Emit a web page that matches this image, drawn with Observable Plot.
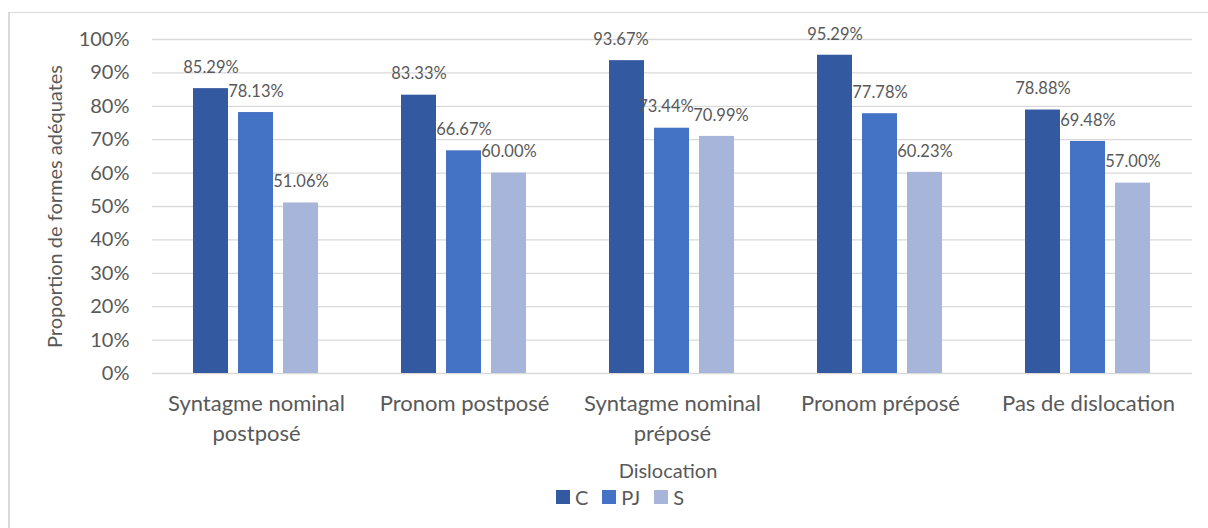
<!DOCTYPE html>
<html>
<head>
<meta charset="utf-8">
<script src="https://cdn.jsdelivr.net/npm/d3@7"></script>
<script src="https://cdn.jsdelivr.net/npm/@observablehq/plot@0.6"></script>
<style>
  html, body { margin: 0; padding: 0; background: #fff; }
  #wrap { position: relative; width: 1208px; height: 528px; overflow: hidden; font-family: Lato, sans-serif; color: #595959; }
  #frame { position: absolute; left: 8px; top: 12px; width: 1300px; height: 600px; border-left: 2px solid #d9d9d9; border-top: 1px solid #d9d9d9; box-sizing: border-box; }
  #chart { position: absolute; left: 0; top: 0; }
  #legend-title { position: absolute; left: 0; width: 1336px; top: 458px; text-align: center; font-size: 20px; line-height: 24px; }
  #legend { position: absolute; left: 0; width: 1240px; top: 486px; display: flex; justify-content: center; gap: 14px; font-size: 20px; line-height: 22px; }
  .item { display: flex; align-items: center; gap: 5px; }
  .sw { width: 14px; height: 14px; display: inline-block; }
</style>
</head>
<body>
<div id="wrap">
  <div id="frame"></div>
  <div id="chart"></div>
  <div id="legend-title"></div>
  <div id="legend"></div>
</div>
<script>
const categories = ["Syntagme nominal postposé", "Pronom postposé", "Syntagme nominal préposé", "Pronom préposé", "Pas de dislocation"];
const categoryLabels = ["Syntagme nominal\npostposé", "Pronom postposé", "Syntagme nominal\npréposé", "Pronom préposé", "Pas de dislocation"];
const series = ["C", "PJ", "S"];
const valuesC  = [0.8529, 0.8333, 0.9367, 0.9529, 0.7888];
const valuesPJ = [0.7813, 0.6667, 0.7344, 0.7778, 0.6948];
const valuesS  = [0.5106, 0.6000, 0.7099, 0.6023, 0.5700];
const colors = ["#335AA1", "#4472C4", "#A7B5DB"];
const yTicks = [0, 0.1, 0.2, 0.3, 0.4, 0.5, 0.6, 0.7, 0.8, 0.9, 1.0];
const yTitle = "Proportion de formes adéquates";
const legendTitle = "Dislocation";

const seriesValues = [valuesC, valuesPJ, valuesS];
const rows = [];
categories.forEach((cat, i) => {
  series.forEach((s, j) => rows.push({cat, series: s, value: seriesValues[j][i]}));
});
const labelOf = new Map(categories.map((c, i) => [c, categoryLabels[i]]));

// manual label nudges (styling), as in the original where some labels were moved apart
const labelNudge = new Map([
  [categories[2] + "|C", -6],
  [categories[2] + "|PJ", -6],
  [categories[2] + "|S", 4]
]);
const nudgeOf = r => labelNudge.get(r.cat + "|" + r.series) || 0;
const nudgeValues = Array.from(new Set(rows.map(nudgeOf)));
const labelMarks = nudgeValues.map(dx =>
  Plot.text(rows.filter(r => nudgeOf(r) === dx), {
    fx: "cat", x: "series", y: "value", dx, dy: -21, fontSize: 16.5, fill: "#595959",
    text: d => (d.value * 100).toFixed(2) + "%"
  })
);

const chart = Plot.plot({
  width: 1208,
  height: 455,
  marginLeft: 152,
  marginRight: 16,
  marginTop: 39,
  marginBottom: 82,
  style: {fontFamily: "Lato, sans-serif", color: "#595959", background: "transparent", overflow: "visible"},
  fx: {domain: categories, padding: 0, label: null, axis: null},
  x: {domain: series, paddingInner: 0.217, paddingOuter: 0.87, axis: null},
  y: {domain: [0, 1], label: null},
  color: {domain: series, range: colors},
  marks: [
    Plot.gridY(yTicks, {stroke: "#d9d9d9", strokeOpacity: 1, strokeWidth: 1.3}),
    Plot.axisY(yTicks, {tickSize: 0, tickPadding: 23, fontSize: 20, label: null, tickFormat: d => Math.round(d * 100) + "%"}),
    Plot.text([{cat: categories[0], y: 0.5}], {fx: "cat", y: "y", frameAnchor: "left", textAnchor: "middle", dx: -97, rotate: -90, fontSize: 20, text: () => yTitle, fill: "#595959"}),
    Plot.barY(rows, {fx: "cat", x: "series", y: "value", fill: "series"}),
    ...labelMarks,
    Plot.axisFx({anchor: "bottom", tickSize: 0, tickPadding: 16, fontSize: 22, lineHeight: 1.36, label: null, tickFormat: d => labelOf.get(d)})
  ]
});
document.getElementById("chart").appendChild(chart);

document.getElementById("legend-title").textContent = legendTitle;
const leg = document.getElementById("legend");
series.forEach((s, i) => {
  const it = document.createElement("span");
  it.className = "item";
  const sw = document.createElement("span");
  sw.className = "sw";
  sw.style.background = colors[i];
  const t = document.createElement("span");
  t.textContent = s;
  it.appendChild(sw);
  it.appendChild(t);
  leg.appendChild(it);
});
</script>
</body>
</html>
